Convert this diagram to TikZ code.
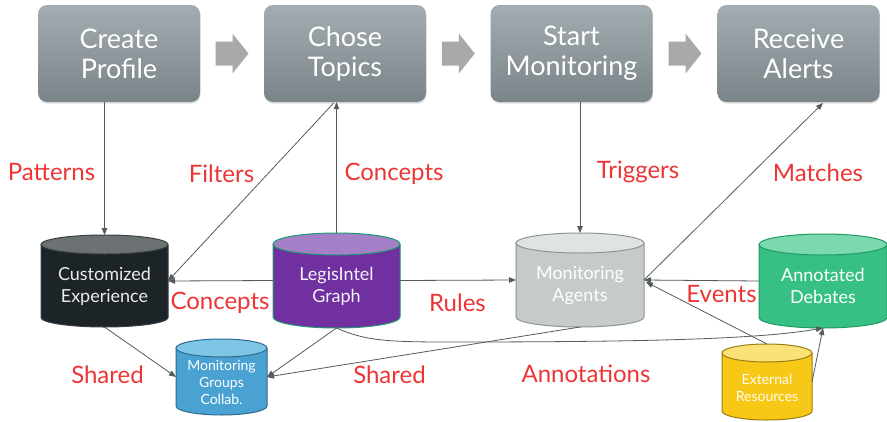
\documentclass[tikz,border=0pt]{standalone}
\usepackage{fontspec}
\setmainfont{Lato}
\usetikzlibrary{arrows.meta,shadows,calc}
\definecolor{boxtop}{HTML}{A3ACB1}
\definecolor{boxbot}{HTML}{7A8489}
\definecolor{arrowgray}{HTML}{A9A9A9}
\definecolor{linegray}{HTML}{555A5C}
\definecolor{labred}{HTML}{EE3535}
\definecolor{ceBody}{HTML}{1D2427}\definecolor{ceTop}{HTML}{6C7174}\definecolor{ceLine}{HTML}{3A3F42}
\definecolor{lgBody}{HTML}{7030A0}\definecolor{lgTop}{HTML}{A57FC8}\definecolor{lgLine}{HTML}{1E9A70}
\definecolor{maBody}{HTML}{C4CBC8}\definecolor{maTop}{HTML}{DFE3E2}\definecolor{maLine}{HTML}{8E9491}
\definecolor{adBody}{HTML}{36C083}\definecolor{adTop}{HTML}{7CD8AE}\definecolor{adLine}{HTML}{1F9A62}
\definecolor{mgBody}{HTML}{4AA2D2}\definecolor{mgTop}{HTML}{7DC6E6}\definecolor{mgLine}{HTML}{2D6C8F}
\definecolor{erBody}{HTML}{F7C815}\definecolor{erTop}{HTML}{FBE176}\definecolor{erLine}{HTML}{9A7D12}
% #1 name, #2 cx, #3 top, #4 bottom, #5 half width, #6 body, #7 top, #8 line, #9 ry
\newcommand\mycyl[9]{%
  \fill[#6] (#2-#5,#3+#9) -- (#2-#5,#4-#9) arc[start angle=180,end angle=0,x radius=#5,y radius=#9] -- (#2+#5,#3+#9) -- cycle;
  \draw[#8,line width=1pt] (#2-#5,#3+#9) -- (#2-#5,#4-#9) arc[start angle=180,end angle=0,x radius=#5,y radius=#9] -- (#2+#5,#3+#9);
  \filldraw[fill=#7,draw=#8,line width=1pt] (#2,#3+#9) ellipse[x radius=#5,y radius=#9];
  \node[inner sep=0pt,outer sep=0pt,minimum width={2*#5},minimum height={#4-#3}] (#1) at (#2,{(#3+#4)/2}) {};
}
\newcommand\blockarr[1]{%
  \fill[arrowgray,shift={(#1)}] (-16.5,-12) -- (0.5,-12) -- (0.5,-20) -- (16.5,0) -- (0.5,20) -- (0.5,12) -- (-16.5,12) -- cycle;
}
\begin{document}
\begin{tikzpicture}[x=1pt,y=-1pt,
  topbox/.style={rounded corners=9pt,top color=boxtop,bottom color=boxbot,
    minimum width=162pt,minimum height=97pt,inner sep=0pt,align=center,
    text=white,font=\fontsize{27}{30}\selectfont,
    drop shadow={opacity=0.25,shadow xshift=0.6pt,shadow yshift=-1.6pt}},
  cyltext/.style={align=center,inner sep=0pt,font=\fontsize{18}{22}\selectfont},
  smalltext/.style={align=center,inner sep=0pt,font=\fontsize{14}{17}\selectfont},
  lbl/.style={text=labred,inner sep=0pt,font=\fontsize{24}{28}\selectfont},
  conn/.style={draw=linegray,line width=0.8pt,-{Triangle[length=7pt,width=5.5pt]}}]
\useasboundingbox (0,0) rectangle (887,421);
\fill[white] (0,0) rectangle (887,421);

% top process boxes
\node[topbox] (cp) at (119,53.5) {Create\\Profile};
\node[topbox] (ct) at (345,53.5) {Chose\\Topics};
\node[topbox] (sm) at (571.5,53.5) {Start\\Monitoring};
\node[topbox] (ra) at (798.5,53.5) {Receive\\Alerts};
\coordinate (m1) at ($(cp.east)!0.5!(ct.west)$);
\coordinate (m2) at ($(ct.east)!0.5!(sm.west)$);
\coordinate (m3) at ($(sm.east)!0.5!(ra.west)$);
\blockarr{m1}\blockarr{m2}\blockarr{m3}

% cylinders
\mycyl{ce}{104.5}{235}{327}{63.5}{ceBody}{ceTop}{ceLine}{9.5}
\node[cyltext,text=white!92!black] (cet) at (104.5,286) {Customized\\Experience};
\mycyl{lg}{336.5}{233}{328}{63.5}{lgBody}{lgTop}{lgLine}{11}
\node[cyltext,text=white!90!lgTop] (lgt) at (336.5,286) {LegisIntel\\Graph};
\mycyl{ma}{580}{233}{327}{64}{maBody}{maTop}{maLine}{10}
\node[cyltext,text=white] (mat) at (580,286) {Monitoring\\Agents};
\mycyl{ad}{823}{234}{328}{64}{adBody}{adTop}{adLine}{10.5}
\node[cyltext,text=white] (adt) at (823,286) {Annotated\\Debates};
\mycyl{mg}{221.5}{339}{415}{45.5}{mgBody}{mgTop}{mgLine}{9}
\node[smalltext,text=white] (mgt) at (221.5,382) {Monitoring\\Groups\\Collab.};
\mycyl{er}{767}{344}{420}{45}{erBody}{erTop}{erLine}{9}
\node[smalltext,text=white!95!erBody] (ert) at (767,387.5) {External\\Resources};

% connectors
\coordinate (rain) at (823,103);
\draw[conn] (ce.north |- cp.south) -- (ce.north);
\draw[conn] (lg.north) -- (lg.north |- ct.south);
\draw[conn] ($(lg.north |- ct.south)+(-3,1)$) -- (ce.east);
\draw[conn] (lg.west) -- (ce.east);
\draw[conn] (lg.east) -- (ma.west);
\draw[conn] (ma.north |- sm.south) -- (ma.north);
\draw[conn] (ma.east) -- (rain);
\draw[conn] (ad.west) -- (ma.east);
\draw[conn] (er.north) -- ($(ma.east)+(2,2)$);
\draw[conn] (er.east) -- (ad.south);
\draw[conn] (lg.south) .. controls (365,341) and (390,342) .. (450,342) .. controls (650,342) and (760,339) .. (ad.south);
\draw[conn] (ma.south) -- (mg.east);
\draw[conn] (lg.south) -- (mg.east);
\draw[conn] (ce.south) -- (mg.west);

% labels
\node[lbl] (l1) at (51.5,172) {Patterns};
\node[lbl] (l2) at (221.5,174) {Filters};
\node[lbl] (l3) at (394,174) {Concepts};
\node[lbl] (l4) at (638,172) {Triggers};
\node[lbl] (l5) at (818,173) {Matches};
\node[lbl] (l6) at (220,303) {Concepts};
\node[lbl] (l7) at (457.5,303) {Rules};
\node[lbl] (l8) at (721.5,294) {Events};
\node[lbl] (l9) at (107.5,375) {Shared};
\node[lbl] (l10) at (389.5,375) {Shared};
\node[lbl] (l11) at (586,374) {Annotations};
\end{tikzpicture}
\end{document}
